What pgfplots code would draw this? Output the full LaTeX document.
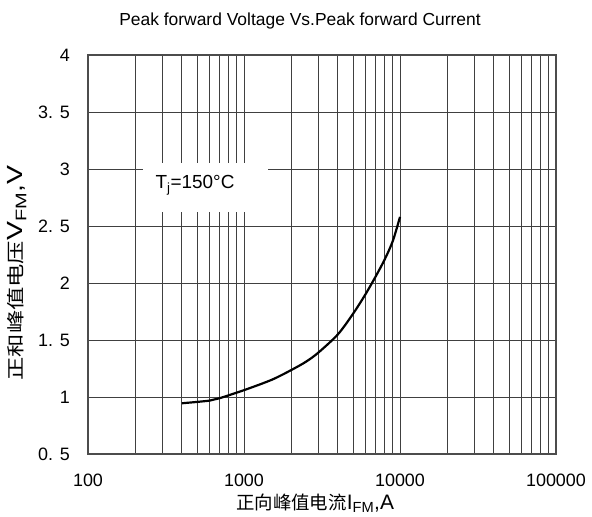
\documentclass[border=0pt]{standalone}
\usepackage{pgfplots}
\pgfplotsset{compat=1.18}
\usepackage{fontspec}
\setmainfont{Liberation Sans}
\newfontfamily\cjk{Noto Sans CJK SC}
\begin{document}
\begin{tikzpicture}
\begin{axis}[
    name=ax,
    at={(0,0)}, anchor=south west,
    scale only axis,
    width=468bp, height=399bp,
    xmode=log,
    xmin=100, xmax=100000,
    ymin=0.5, ymax=4,
    xtick={100,1000,10000,100000},
    xticklabels={100,1000,10000,100000},
    ytick={0.5,1,1.5,2,2.5,3,3.5,4},
    yticklabels={0. 5,1,1. 5,2,2. 5,3,3. 5,4},
    minor xtick={200,300,400,500,600,700,800,900,2000,3000,4000,5000,6000,7000,8000,9000,20000,30000,40000,50000,60000,70000,80000,90000},
    grid=both,
    major grid style={line width=0.9pt, black!75},
    minor grid style={line width=0.9pt, black!75},
    major tick length=0pt, minor tick length=0pt,
    axis line style={line width=1.6pt, black!70},
    xticklabel style={font=\fontsize{18}{20}\selectfont, anchor=base, inner sep=0pt, yshift=-32bp},
    yticklabel style={font=\fontsize{18}{20}\selectfont, anchor=east, inner sep=0pt, xshift=-18bp},
]
\addplot[black, line width=2.2pt, smooth] coordinates {
    (400,0.945) (600,0.968) (700,0.99) (1000,1.06) (1500,1.15) (2000,1.235)
    (2500,1.31) (3000,1.39) (4000,1.55) (5000,1.73) (6000,1.90) (7000,2.06)
    (8000,2.21) (9000,2.37) (10000,2.58)
};
\fill[white] (axis cs:225,2.625) rectangle (axis cs:1426,3.055);
\end{axis}
% labels, in bp from the lower left corner of the plot area
\node[anchor=base, font=\fontsize{17.5}{20}\selectfont] at (212bp,428bp)
    {Peak forward Voltage Vs.Peak forward Current};
\node[font=\fontsize{19}{20}\selectfont] at (107bp,269bp)
    {T\textsubscript{j}=150°C};
\node[anchor=base west, inner sep=0pt, font=\fontsize{21}{22}\selectfont] at (148bp,-55bp)
    {{\cjk\fontsize{18.5}{19}\selectfont 正向峰值电流}I\textsubscript{FM},A};
\node[rotate=90, inner sep=0pt, font=\fontsize{22}{24}\selectfont] at (-71bp,181bp)
    {\scalebox{1.3}[1]{{\cjk\fontsize{18}{19}\selectfont 正和峰值电压}V\textsubscript{FM},V}};
\pgfresetboundingbox
\path (-88bp,-63bp) rectangle (504bp,454bp);
\end{tikzpicture}
\end{document}
